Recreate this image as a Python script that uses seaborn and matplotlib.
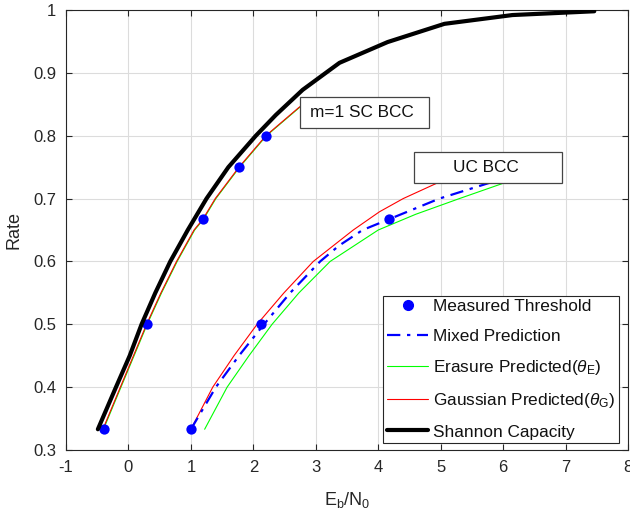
import numpy as np
import pandas as pd
import matplotlib
matplotlib.use("Agg")
import matplotlib.pyplot as plt
import seaborn as sns
from matplotlib.lines import Line2D
from matplotlib.patches import Rectangle

# ---- data ----
shannon_x = [-0.49, -0.2, 0.02, 0.21, 0.43, 0.67, 0.95, 1.25, 1.6, 2.04, 2.36, 2.79, 3.38, 4.15, 5.06, 6.15, 7.46]
shannon_y = [0.333, 0.4, 0.45, 0.5, 0.55, 0.6, 0.65, 0.7, 0.75, 0.8, 0.833, 0.873, 0.916, 0.949, 0.978, 0.992, 0.998]

meas_x = [-0.39, 0.30, 1.19, 1.77, 2.21, 1.0, 2.12, 4.17]
meas_y = [0.333, 0.5, 0.667, 0.75, 0.8, 0.333, 0.5, 0.667]

sc_red_x = [-0.41, -0.13, 0.08, 0.29, 0.52, 0.77, 1.05, 1.19, 1.39, 1.77, 2.2, 2.73, 2.95]
sc_red_y = [0.333, 0.4, 0.45, 0.5, 0.55, 0.6, 0.65, 0.667, 0.7, 0.75, 0.8, 0.845, 0.86]
sc_green_x = [-0.40, -0.12, 0.09, 0.30, 0.53, 0.78, 1.06, 1.20, 1.40, 1.78, 2.21, 2.74, 2.96]
sc_green_y = [0.333, 0.4, 0.45, 0.5, 0.55, 0.6, 0.65, 0.667, 0.7, 0.75, 0.8, 0.845, 0.86]

uc_red_x = [1.0, 1.35, 1.69, 2.06, 2.49, 2.96, 3.6, 4.02, 4.4, 4.95, 5.6]
uc_red_y = [0.333, 0.4, 0.45, 0.5, 0.55, 0.6, 0.65, 0.679, 0.7, 0.725, 0.75]
uc_blue_x = [1.0, 1.40, 1.77, 2.17, 2.59, 3.07, 3.37, 3.75, 4.17, 4.98, 5.78, 6.6]
uc_blue_y = [0.333, 0.4, 0.45, 0.5, 0.55, 0.6, 0.625, 0.65, 0.667, 0.7, 0.725, 0.75]
uc_green_x = [1.22, 1.58, 1.93, 2.30, 2.73, 3.23, 4.0, 4.6, 5.3, 6.02, 6.8]
uc_green_y = [0.333, 0.4, 0.45, 0.5, 0.55, 0.6, 0.65, 0.675, 0.7, 0.725, 0.75]

xticks = [-1, 0, 1, 2, 3, 4, 5, 6, 7, 8]
yticks = [0.3, 0.4, 0.5, 0.6, 0.7, 0.8, 0.9, 1.0]
ytick_labels = ["0.3", "0.4", "0.5", "0.6", "0.7", "0.8", "0.9", "1"]

sns.set_theme(style="whitegrid")
plt.rcParams["font.family"] = ["Liberation Sans", "DejaVu Sans"]
plt.rcParams["mathtext.fontset"] = "custom"
plt.rcParams["mathtext.rm"] = "Liberation Sans"
plt.rcParams["mathtext.it"] = "Liberation Sans:italic"
plt.rcParams["mathtext.bf"] = "Liberation Sans:bold"

fig = plt.figure(figsize=(6.3, 5.16), dpi=100)
fig.patch.set_facecolor("white")
ax = fig.add_axes([0.1048, 0.1279, 0.892, 0.8527])
ax.set_facecolor("white")

def line(x, y, **kw):
    df = pd.DataFrame({"x": x, "y": y})
    sns.lineplot(data=df, x="x", y="y", sort=False, estimator=None, ax=ax, **kw)

line(sc_green_x, sc_green_y, color=(0, 1, 0), lw=0.8, zorder=2)
line(sc_red_x, sc_red_y, color=(1, 0, 0), lw=0.8, zorder=2)
line(uc_green_x, uc_green_y, color=(0, 1, 0), lw=0.8, zorder=2)
line(uc_red_x, uc_red_y, color=(1, 0, 0), lw=0.8, zorder=2)
line(uc_blue_x, uc_blue_y, color=(0, 0, 1), lw=1.6, linestyle=(0, (6, 3, 1.5, 3)), zorder=3)
line(shannon_x, shannon_y, color="black", lw=3.0, zorder=6)

sns.scatterplot(x=meas_x, y=meas_y, color=(0, 0, 1), s=55, edgecolor=(0, 0, 1),
                linewidth=0, ax=ax, zorder=5)

# annotation boxes
ax.add_patch(Rectangle((2.74, 0.812), 2.07, 0.05, facecolor="white",
                       edgecolor="#444444", lw=0.9, zorder=4))
ax.text(2.90, 0.837, "m=1 SC BCC", fontsize=12.4, va="center", ha="left", zorder=4.5, color="#111111")
ax.add_patch(Rectangle((4.57, 0.725), 2.37, 0.049, facecolor="white",
                       edgecolor="#444444", lw=0.9, zorder=4))
ax.text(5.73, 0.750, "UC BCC", fontsize=12.4, va="center", ha="center", zorder=4.5, color="#111111")

ax.set_xlim(-1, 8)
ax.set_ylim(0.3, 1.0)
ax.set_xticks(xticks)
ax.set_xticklabels([str(t) for t in xticks])
ax.set_yticks(yticks)
ax.set_yticklabels(ytick_labels)
ax.grid(True, color="#dcdcdc", lw=0.8)
ax.tick_params(direction="in", length=4, width=0.8, color="#262626",
               top=True, right=True, bottom=True, left=True,
               labelsize=12, labelcolor="#262626", pad=7)
for s in ax.spines.values():
    s.set_visible(True)
    s.set_color("#262626")
    s.set_linewidth(0.8)

ax.set_xlabel(r"E$_\mathrm{b}$/N$_\mathrm{0}$", fontsize=13, color="#262626", labelpad=11)
ax.set_ylabel("Rate", fontsize=13, color="#262626", labelpad=8)

handles = [
    Line2D([], [], color=(0, 0, 1), marker="o", linestyle="none", markersize=7),
    Line2D([], [], color=(0, 0, 1), lw=1.6, linestyle=(0, (6, 3, 1.5, 3))),
    Line2D([], [], color=(0, 1, 0), lw=0.8),
    Line2D([], [], color=(1, 0, 0), lw=0.8),
    Line2D([], [], color="black", lw=3.0),
]
labels = ["Measured Threshold", "Mixed Prediction",
          r"Erasure Predicted($\theta_\mathrm{E}$)",
          r"Gaussian Predicted($\theta_\mathrm{G}$)", "Shannon Capacity"]
leg = ax.legend(handles, labels, loc="lower right", bbox_to_anchor=(0.984, 0.016),
                fontsize=12.4, frameon=True, fancybox=False, framealpha=1,
                edgecolor="#262626", handlelength=2.4, handletextpad=0.3,
                borderpad=0.2, labelspacing=0.83, borderaxespad=0)
leg.get_frame().set_linewidth(0.8)
leg.set_zorder(10)
for t in leg.get_texts():
    t.set_color("#111111")

fig.savefig("out.png", dpi=100, facecolor="white")
